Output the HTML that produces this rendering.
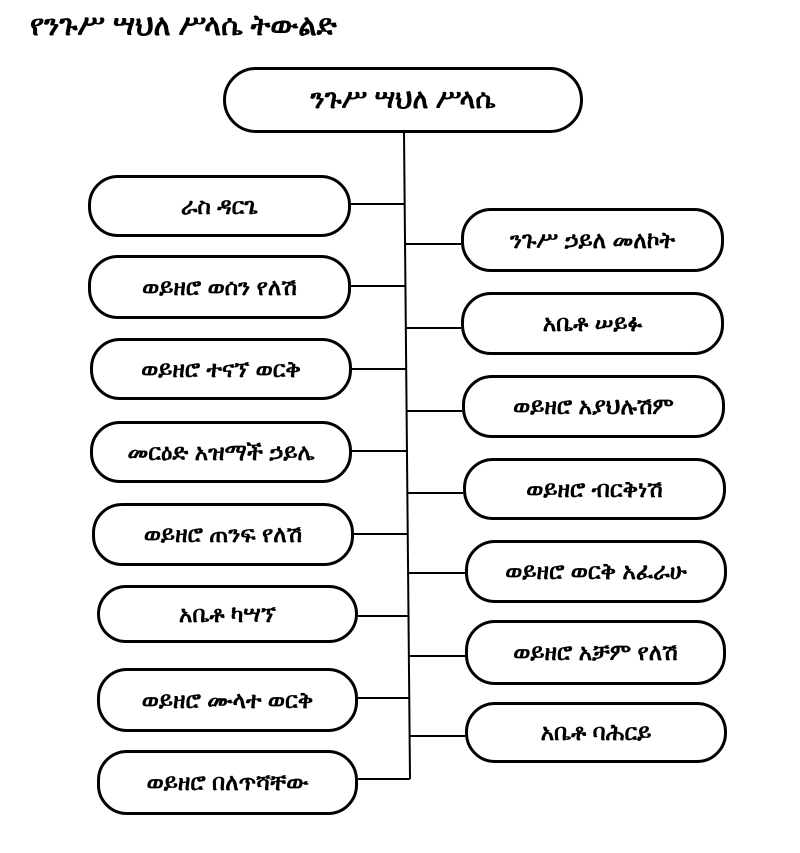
<!DOCTYPE html>
<html><head><meta charset="utf-8"><style>
body{margin:0;width:800px;height:853px;background:#fff;overflow:hidden;position:relative;font-family:"Liberation Sans","DejaVu Sans",sans-serif;}
.b{position:absolute;box-sizing:border-box;border:3px solid #000;border-radius:30px;display:flex;align-items:center;justify-content:center;font-weight:bold;font-size:23px;color:#000;background:#fff;white-space:nowrap}
.h{position:absolute;height:2px;background:#000}
.t{position:absolute;left:30px;top:10px;font-size:29px;font-weight:bold}
</style></head><body>
<div class="t">የንጉሥ ሣህለ ሥላሴ ትውልድ</div>
<svg style="position:absolute;left:0;top:0" width="800" height="853"><line x1="404" y1="132" x2="410" y2="779" stroke="#000" stroke-width="2"/></svg>
<div class="b" style="left:223px;top:67px;width:360px;height:66px;border-radius:33px;font-size:27px">ንጉሥ ሣህለ ሥላሴ</div>

<div class="h" style="left:351px;top:203px;width:54px"></div>
<div class="h" style="left:351px;top:285px;width:55px"></div>
<div class="h" style="left:351px;top:368px;width:56px"></div>
<div class="h" style="left:351px;top:450px;width:57px"></div>
<div class="h" style="left:352px;top:533px;width:56px"></div>
<div class="h" style="left:358px;top:615px;width:51px"></div>
<div class="h" style="left:358px;top:697px;width:52px"></div>
<div class="h" style="left:358px;top:778px;width:52px"></div>

<div class="h" style="left:405px;top:243px;width:56px"></div>
<div class="h" style="left:405px;top:327px;width:56px"></div>
<div class="h" style="left:406px;top:410px;width:56px"></div>
<div class="h" style="left:407px;top:492px;width:56px"></div>
<div class="h" style="left:408px;top:572px;width:57px"></div>
<div class="h" style="left:408px;top:655px;width:57px"></div>
<div class="h" style="left:409px;top:735px;width:56px"></div>

<div class="b" style="left:88px;top:175px;width:263px;height:62px">ራስ ዳርጌ</div>
<div class="b" style="left:88px;top:255px;width:263px;height:64px">ወይዘሮ ወሰን የለሽ</div>
<div class="b" style="left:90px;top:338px;width:262px;height:62px">ወይዘሮ ተናኘ ወርቅ</div>
<div class="b" style="left:90px;top:421px;width:262px;height:62px">መርዕድ አዝማች ኃይሌ</div>
<div class="b" style="left:92px;top:503px;width:262px;height:63px">ወይዘሮ ጠንፍ የለሽ</div>
<div class="b" style="left:97px;top:585px;width:261px;height:58px">አቤቶ ካሣኘ</div>
<div class="b" style="left:97px;top:668px;width:261px;height:64px">ወይዘሮ ሙላተ ወርቅ</div>
<div class="b" style="left:97px;top:750px;width:261px;height:65px">ወይዘሮ በለጥሻቸው</div>

<div class="b" style="left:461px;top:208px;width:263px;height:64px">ንጉሥ ኃይለ መለኮት</div>
<div class="b" style="left:461px;top:292px;width:263px;height:63px">አቤቶ ሠይፉ</div>
<div class="b" style="left:462px;top:375px;width:263px;height:63px">ወይዘሮ አያህሉሽም</div>
<div class="b" style="left:463px;top:458px;width:263px;height:62px">ወይዘሮ ብርቅነሽ</div>
<div class="b" style="left:465px;top:540px;width:262px;height:63px">ወይዘሮ ወርቅ አፈራሁ</div>
<div class="b" style="left:465px;top:620px;width:261px;height:65px">ወይዘሮ አቻም የለሽ</div>
<div class="b" style="left:465px;top:702px;width:262px;height:61px">አቤቶ ባሕርይ</div>
</body></html>
